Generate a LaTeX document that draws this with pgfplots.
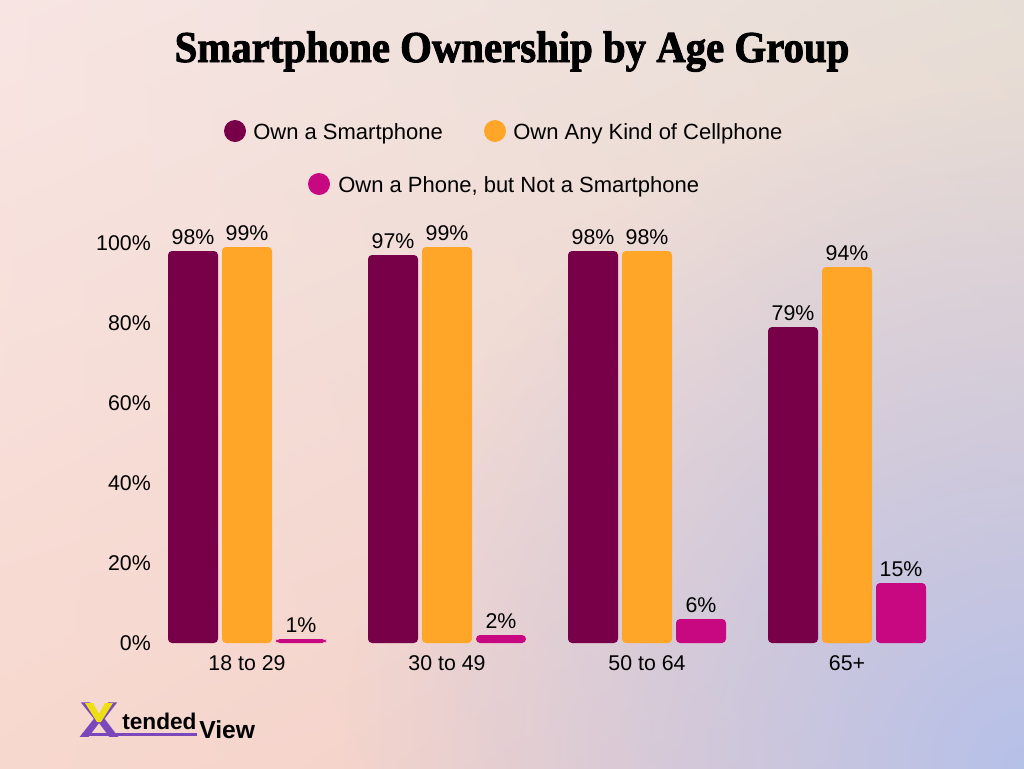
\documentclass[border=0pt]{standalone}
\usepackage{graphicx}
\usepackage{pgfplots}
\pgfplotsset{compat=1.18}
\usepackage{fontspec}
\setmainfont{Liberation Sans}
\newfontfamily\titlefont[BoldFeatures={FakeBold=2.2}]{Liberation Serif}
\usetikzlibrary{fadings,shadings}

% series colours
\definecolor{smart}{RGB}{120,0,72}
\definecolor{cell}{RGB}{255,165,40}
\definecolor{phone}{RGB}{200,8,128}
% background tints
\definecolor{bgTL}{RGB}{248,229,227}
\definecolor{bgTR}{RGB}{230,222,214}
\definecolor{bgBL}{RGB}{247,216,206}
\definecolor{bgBR}{RGB}{240,204,198}
\definecolor{lav}{RGB}{182,193,233}
% logo colours
\definecolor{logopurple}{RGB}{122,72,186}
\definecolor{logoyellow}{RGB}{238,222,20}

\tikzfading[name=softglow, inner color=transparent!0, outer color=transparent!100]

\pgfplotstableread{
grp smart cell phone
0   98    99   1
1   97    99   2
2   98    98   6
3   79    94   15
}\ownership

\begin{document}
\begin{tikzpicture}
\begin{scope}[x=0.75pt, y=-0.75pt]
\useasboundingbox (0,0) rectangle (1024,768);
% background
\shade[upper left=bgTL, upper right=bgTR, lower left=bgBL, lower right=bgBR]
  (0,0) rectangle (1024,768);
\begin{scope}
  \clip (0,0) rectangle (1024,768);
  \fill[lav, path fading=softglow] (1024,768) circle (680);
\end{scope}

% title
\node[anchor=base, inner sep=0pt] at (512,62)
  {\resizebox{506pt}{\height}{\titlefont\bfseries\fontsize{33}{40}\selectfont Smartphone Ownership by Age Group}};

% legend
\fill[smart] (235,131) circle (11);
\node[anchor=base west, inner sep=0pt, font=\fontsize{16.5}{20}\selectfont] at (253,139) {Own a Smartphone};
\fill[cell] (495,131) circle (11);
\node[anchor=base west, inner sep=0pt, font=\fontsize{16.5}{20}\selectfont] at (513,139) {Own Any Kind of Cellphone};
\fill[phone] (319,184) circle (11);
\node[anchor=base west, inner sep=0pt, font=\fontsize{16.5}{20}\selectfont] at (338,192) {Own a Phone, but Not a Smartphone};

% logo
\node[anchor=south west, inner sep=0pt, text=logopurple] at (79,738)
  {\resizebox{30pt}{26pt}{\bfseries X}};
\fill[logoyellow] (85,703) -- (93,703) -- (99,714) -- (105,703) -- (113,703) -- (101,722) -- (97,722) -- cycle;
\fill[logopurple] (82,733) rectangle (197,736);
\node[anchor=base west, inner sep=0pt, font=\bfseries\fontsize{17}{20}\selectfont] at (122,729) {tended};
\node[anchor=base west, inner sep=0pt, font=\bfseries\fontsize{18.5}{22}\selectfont] at (199,738) {View};

\coordinate (axpos) at (157,643);
\end{scope}

\begin{axis}[
  at={(axpos)}, anchor=south west,
  x=150pt, y=3pt,
  xmin=-0.45, xmax=3.45, ymin=0, ymax=100,
  clip=false,
  axis line style={draw=none},
  major tick length=0pt,
  /pgf/number format/assume math mode=true,
  ybar=3pt, bar width=37.5pt,
  xtick={0,1,2,3},
  xticklabels={18 to 29, 30 to 49, 50 to 64, 65+},
  ytick={0,20,40,60,80,100},
  yticklabel={\pgfmathprintnumber{\tick}\%},
  tick label style={font=\fontsize{16}{19}\selectfont, text=black},
  yticklabel style={inner sep=0pt, anchor=east, xshift=-4.5pt},
  xticklabel style={inner sep=0pt, anchor=north, yshift=-9pt},
  nodes near coords={\pgfmathprintnumber{\pgfplotspointmeta}\%},
  nodes near coords style={text=black, inner sep=0pt, anchor=south, yshift=4.5pt,
    font=\fontsize{16}{19}\selectfont},
  every axis plot/.append style={draw=none, rounded corners=3pt},
]
\addplot[fill=smart] table[x=grp, y=smart] {\ownership};
\addplot[fill=cell] table[x=grp, y=cell] {\ownership};
\addplot[fill=phone] table[x=grp, y=phone] {\ownership};
\end{axis}
\end{tikzpicture}
\end{document}
